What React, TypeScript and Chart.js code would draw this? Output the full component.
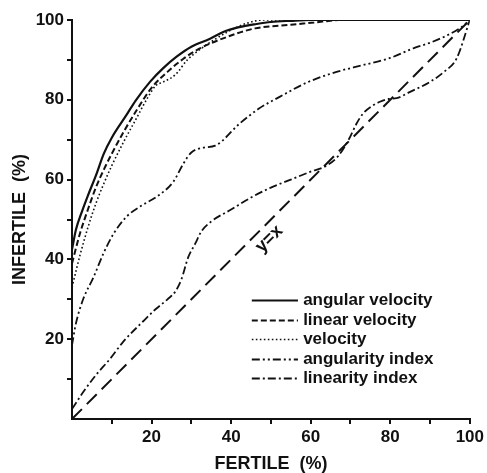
import React, { useEffect, useRef } from "react";
import { Chart, registerables } from "chart.js";

Chart.register(...registerables);

// ---- data ----
const angularVelocityX = [0, 1, 2.5, 4, 6, 8, 10, 13.7, 16, 19.6, 23, 26.3, 30, 34.7, 38, 42, 46.4, 50, 55, 60, 70, 80, 90, 100];
const angularVelocityY = [42.5, 47.5, 52, 56, 61, 66.5, 70.5, 76.2, 79.8, 84.5, 88, 90.8, 93.3, 95.3, 97, 98.2, 99, 99.5, 99.8, 100, 100, 100, 100, 100];

const linearVelocityX = [0, 2, 4, 6, 8, 10, 13, 16, 20, 24, 28, 32, 38, 46, 55, 63, 67, 80, 100];
const linearVelocityY = [39, 46.5, 52.5, 58, 62.5, 66.5, 72, 77, 83, 87, 90.3, 92.8, 95.4, 97.9, 98.8, 99.6, 100, 100, 100];

const velocityX = [0, 2, 4, 6, 8, 10, 13, 16, 19, 21, 23, 26, 29, 32, 36, 40, 44, 48, 55, 100];
const velocityY = [33, 41, 48, 54, 59, 63.5, 69.5, 75, 80.5, 83.5, 84.5, 86.3, 90, 92.5, 95.2, 97.5, 99.2, 100, 100, 100];

const angularityIndexX = [0, 1, 2.8, 5.4, 7.9, 10.5, 13.7, 17.5, 21.3, 25.5, 28, 30, 33, 36, 42.2, 47, 52.3, 59, 66.5, 73.2, 80, 85.8, 90, 95, 98.3, 100];
const angularityIndexY = [18.5, 24, 30, 35.5, 41.5, 46.5, 50.7, 53.5, 55.7, 59.5, 64, 66.8, 68, 68.5, 74.1, 77.8, 80.8, 84.3, 87, 88.7, 90.5, 92.9, 94.3, 96.5, 98.5, 100];

const linearityIndexX = [0, 3, 6, 9.5, 13, 17.9, 21, 24, 26, 27.5, 29.2, 31, 32.5, 35, 40, 45, 50, 55, 60, 64, 67, 69.8, 71.5, 73.2, 75.5, 77.4, 79.5, 81.6, 85, 90, 93.5, 96.7, 100];
const linearityIndexY = [2.5, 7, 11, 15, 19.5, 24.5, 27.5, 30, 32, 35, 40.5, 44, 47, 49.5, 52.5, 55.5, 58, 60, 62, 63.5, 66, 70.5, 74, 76.6, 78.5, 79.5, 80.2, 80.4, 82, 84.5, 87, 90.4, 100];

const identityX = [0, 100];
const identityY = [0, 100];

const seriesLabels = ["angular velocity", "linear velocity", "velocity", "angularity index", "linearity index"];
const identityLabel = "y=x";
const xTitle = "FERTILE  (%)";
const yTitle = "INFERTILE  (%)";
const labelledTicks = [20, 40, 60, 80, 100];

const toPoints = (xs: number[], ys: number[]) => xs.map((x, i) => ({ x, y: ys[i] }));

const INK = "#111111";
const FONT = "'Liberation Sans', Arial, sans-serif";

const annotatePlugin = {
  id: "annotate",
  afterDatasetsDraw(chart: any) {
    const { ctx, scales } = chart;
    const xs = scales.x;
    const ys = scales.y;
    ctx.save();
    // inside legend
    const sx0 = xs.getPixelForValue(45.2);
    const sx1 = xs.getPixelForValue(56.8);
    const tx = xs.getPixelForValue(58.1);
    const top = ys.getPixelForValue(29.8);
    const gap = 19.5;
    let row = 0;
    chart.data.datasets.forEach((ds: any) => {
      if (!ds.showInLegend) return;
      const py = Math.round(top + row * gap) + 0.5;
      ctx.strokeStyle = INK;
      ctx.lineWidth = ds.borderWidth;
      ctx.setLineDash(ds.borderDash || []);
      ctx.beginPath();
      ctx.moveTo(sx0, py);
      ctx.lineTo(sx1, py);
      ctx.stroke();
      ctx.setLineDash([]);
      ctx.fillStyle = INK;
      ctx.font = `bold 17px ${FONT}`;
      ctx.textAlign = "left";
      ctx.textBaseline = "middle";
      ctx.fillText(ds.label, tx, py);
      row++;
    });
    // y=x label
    const lx = xs.getPixelForValue(49.6);
    const ly = ys.getPixelForValue(45.1);
    ctx.translate(lx, ly);
    ctx.rotate(-Math.PI / 4);
    ctx.font = `bold 18px ${FONT}`;
    ctx.textAlign = "center";
    ctx.textBaseline = "middle";
    ctx.fillStyle = INK;
    ctx.fillText(identityLabel, 0, 0);
    ctx.restore();
  },
};

const tickColor = (c: any) => (c.tick && c.tick.value === 0 ? "rgba(0,0,0,0)" : INK);

export default function App() {
  const ref = useRef<HTMLCanvasElement>(null);

  useEffect(() => {
    document.body.style.margin = "0";
    const canvas = ref.current;
    if (!canvas) return;

    const common = {
      pointRadius: 0,
      pointHoverRadius: 0,
      fill: false,
      cubicInterpolationMode: "monotone",
      borderColor: INK,
    };

    const chart = new Chart(canvas, {
      type: "line",
      data: {
        datasets: [
          { ...common, label: seriesLabels[0], showInLegend: true, data: toPoints(angularVelocityX, angularVelocityY), borderWidth: 2.2, borderDash: [] },
          { ...common, label: seriesLabels[1], showInLegend: true, data: toPoints(linearVelocityX, linearVelocityY), borderWidth: 2, borderDash: [6, 3] },
          { ...common, label: seriesLabels[2], showInLegend: true, data: toPoints(velocityX, velocityY), borderWidth: 1.6, borderDash: [1.6, 2.4] },
          { ...common, label: seriesLabels[3], showInLegend: true, data: toPoints(angularityIndexX, angularityIndexY), borderWidth: 1.8, borderDash: [8, 3, 2, 3, 2, 3] },
          { ...common, label: seriesLabels[4], showInLegend: true, data: toPoints(linearityIndexX, linearityIndexY), borderWidth: 1.8, borderDash: [8, 3, 2, 3] },
          { ...common, label: identityLabel, showInLegend: false, data: toPoints(identityX, identityY), borderWidth: 2, borderDash: [14, 7], cubicInterpolationMode: "default" },
        ] as any,
      },
      options: {
        responsive: false,
        animation: false,
        events: [],
        layout: { padding: { left: 0, right: 17, top: 20, bottom: 0 } },
        plugins: {
          legend: { display: false },
          tooltip: { enabled: false },
          title: { display: false },
        },
        scales: {
          x: {
            type: "linear",
            min: 0,
            max: 100,
            afterFit: (s: any) => {
              s.height = 54;
            },
            border: { display: true, color: INK, width: 2 },
            grid: { drawOnChartArea: false, drawTicks: true, tickLength: 5, color: tickColor, lineWidth: 2 },
            ticks: {
              stepSize: 10,
              autoSkip: false,
              maxRotation: 0,
              padding: 3,
              color: INK,
              font: { family: FONT, size: 17, weight: "bold" },
              callback: (v: any) => (labelledTicks.includes(Number(v)) ? String(v) : ""),
            },
            title: {
              display: true,
              text: xTitle,
              color: INK,
              font: { family: FONT, size: 18, weight: "bold", lineHeight: 0.95 },
              padding: { top: 0, bottom: 0 },
            },
          },
          y: {
            type: "linear",
            min: 0,
            max: 100,
            afterFit: (s: any) => {
              s.width = 72;
            },
            border: { display: true, color: INK, width: 2 },
            grid: { drawOnChartArea: false, drawTicks: true, tickLength: 5, color: tickColor, lineWidth: 2 },
            ticks: {
              stepSize: 10,
              autoSkip: false,
              padding: 3,
              color: INK,
              font: { family: FONT, size: 17, weight: "bold" },
              callback: (v: any) => (labelledTicks.includes(Number(v)) ? String(v) : ""),
            },
            title: {
              display: true,
              text: yTitle,
              color: INK,
              font: { family: FONT, size: 18, weight: "bold", lineHeight: 1.2 },
              padding: { top: 9, bottom: 0 },
            },
          },
        },
      } as any,
      plugins: [annotatePlugin],
    });

    return () => chart.destroy();
  }, []);

  return (
    <div style={{ width: 487, height: 473, background: "#fff" }}>
      <canvas ref={ref} width={487} height={473} style={{ display: "block" }} />
    </div>
  );
}
